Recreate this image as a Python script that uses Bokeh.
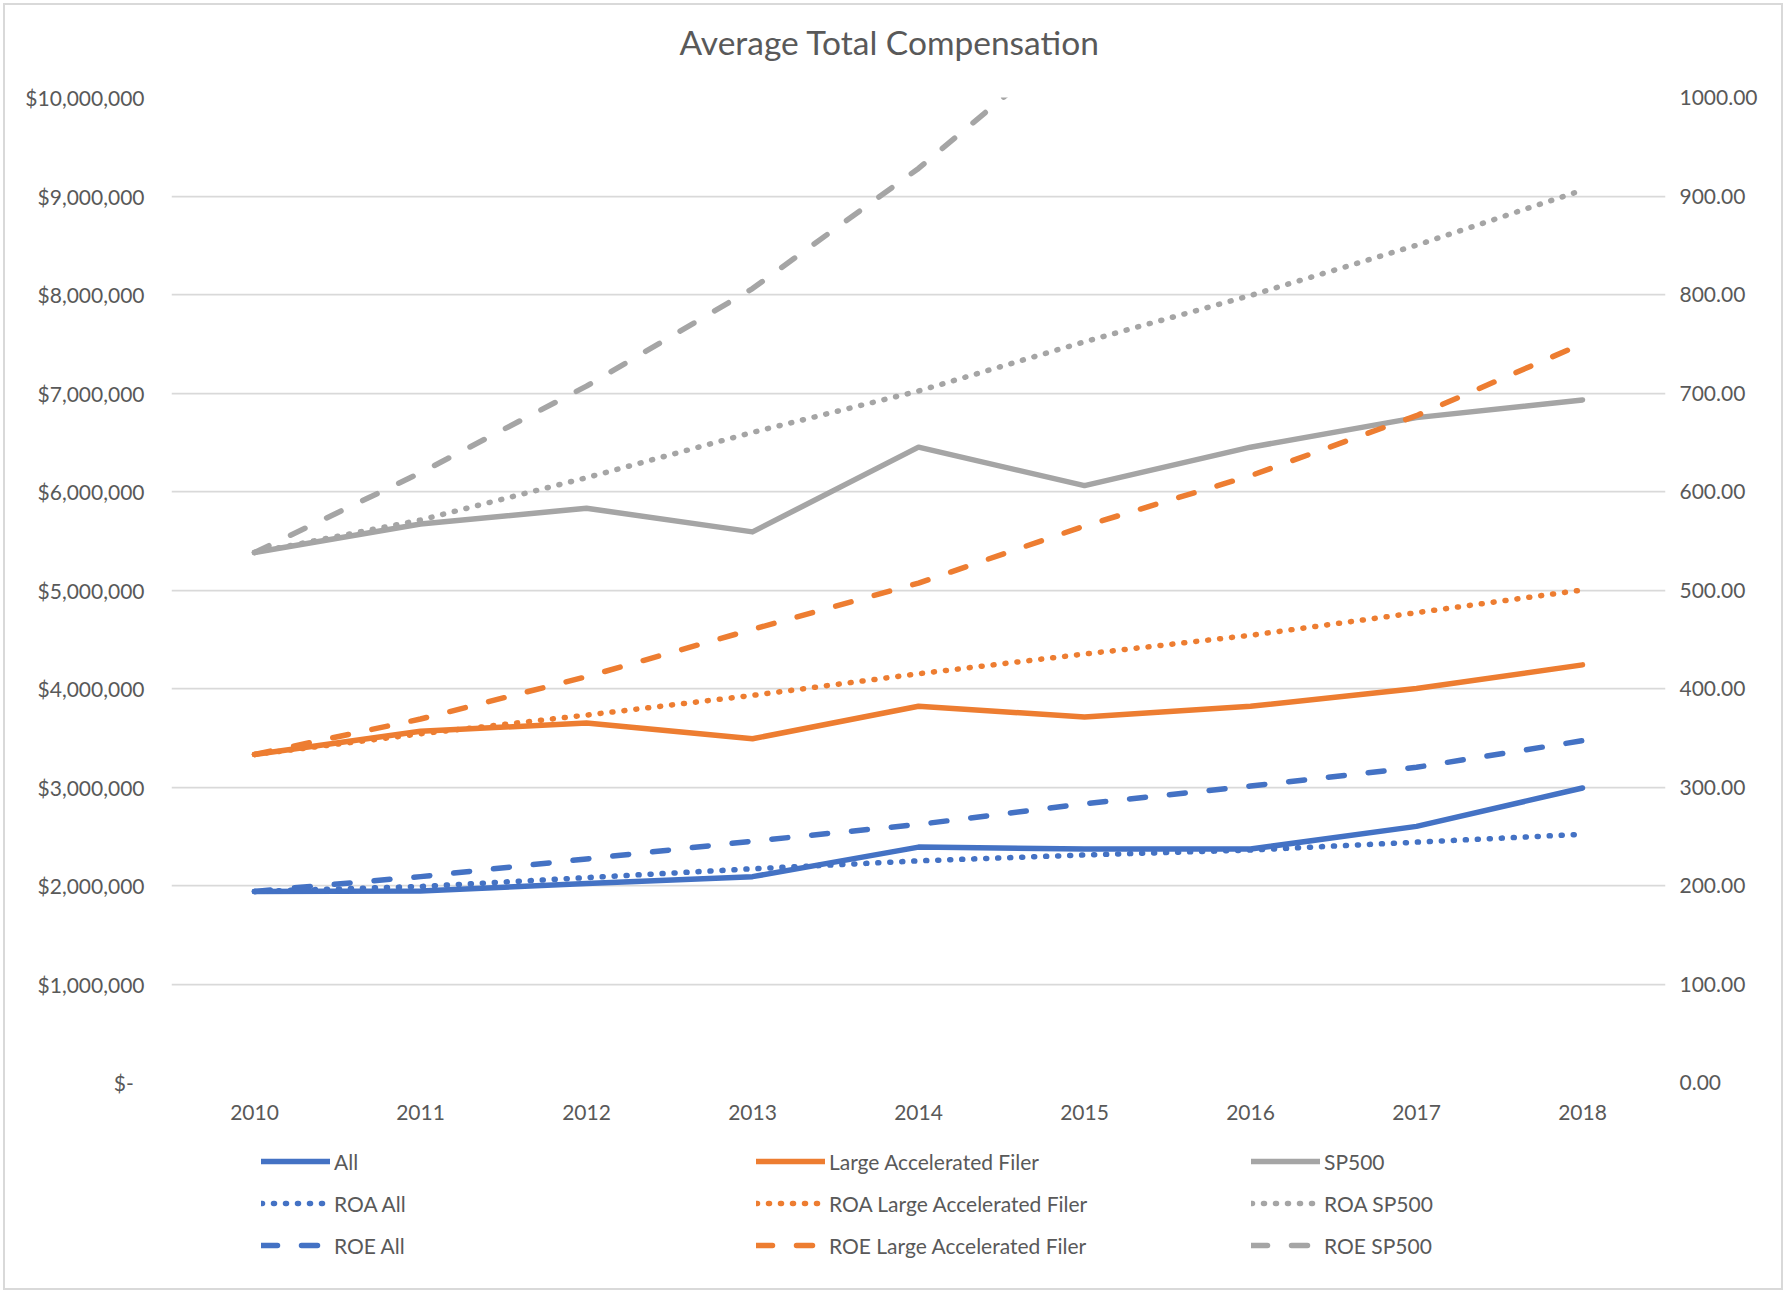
from bokeh.plotting import figure
from bokeh.layouts import column
from bokeh.models import (Range1d, LinearAxis, FixedTicker, NumeralTickFormatter,
                          CustomJSTickFormatter, Legend, LegendItem, Title)
from bokeh.embed import file_html
from bokeh.resources import INLINE

# ---------------- data ----------------
years = ["2010", "2011", "2012", "2013", "2014", "2015", "2016", "2017", "2018"]

all_comp = [1940000, 1945000, 2020000, 2090000, 2390000, 2370000, 2370000, 2600000, 2990000]
laf_comp = [3330000, 3565000, 3650000, 3490000, 3820000, 3710000, 3820000, 4000000, 4240000]
sp_comp = [5380000, 5670000, 5830000, 5590000, 6450000, 6060000, 6450000, 6750000, 6930000]

roa_all = [194, 199, 208, 217, 225, 231, 236, 244, 252]
roa_laf = [333, 354, 373, 393, 415, 435, 454, 477, 500]
roa_sp = [538, 571, 614, 660, 702, 752, 799, 850, 906]

roe_all = [194, 209, 227, 245, 262, 283, 301, 320, 347]
roe_laf = [333, 369, 412, 460, 507, 565, 616, 677, 750]
roe_sp = [538, 619, 707, 806, 928, 1069, 1227, 1411, 1623]

left_ticks = [0, 1000000, 2000000, 3000000, 4000000, 5000000,
              6000000, 7000000, 8000000, 9000000, 10000000]
right_ticks = [0, 100, 200, 300, 400, 500, 600, 700, 800, 900, 1000]

BLUE = "#4472C4"
ORANGE = "#ED7D31"
GRAY = "#A5A5A5"
TXT = "#595959"
FONT = "Lato"

# ---------------- main figure ----------------
W = 1776
H1 = 1139
H2 = 144
BL, BR = 166, 116
p = figure(width=W, height=H1, x_range=years, y_range=Range1d(0, 10000000),
           output_backend="svg", toolbar_location=None,
           min_border_left=BL, min_border_right=BR,
           min_border_top=92, min_border_bottom=62)
p.extra_y_ranges = {"right": Range1d(0, 1000)}

p.outline_line_color = None
p.background_fill_color = "white"
p.border_fill_color = "white"
p.xgrid.grid_line_color = None
p.ygrid.grid_line_color = "#D9D9D9"
p.ygrid.grid_line_width = 1.75
p.ygrid.ticker = FixedTicker(ticks=left_ticks)

# title (spacer nearest the frame, then the real title)
p.add_layout(Title(text=" ", text_font_size="1px", standoff=28), "above")
p.add_layout(Title(text="Average Total Compensation", align="left", offset=508,
                   text_font=FONT, text_font_size="33.5px", text_color=TXT,
                   text_font_style="normal", standoff=10), "above")

# axes
ax = p.yaxis[0]
ax.ticker = FixedTicker(ticks=left_ticks)
ax.formatter = CustomJSTickFormatter(code="""
    if (tick == 0) { return "$-\u00a0\u00a0"; }
    return "$" + Math.round(tick).toLocaleString("en-US");
""")
ax.major_label_standoff = 21

rax = LinearAxis(y_range_name="right", ticker=FixedTicker(ticks=right_ticks),
                 formatter=NumeralTickFormatter(format="0.00"))
rax.major_label_standoff = 8
p.add_layout(rax, "right")

xax = p.xaxis[0]
xax.major_label_standoff = 16

for a in [ax, rax, xax]:
    a.axis_line_color = None
    a.major_tick_line_color = None
    a.minor_tick_line_color = None
    a.major_label_text_font = FONT
    a.major_label_text_font_size = "21px"
    a.major_label_text_color = TXT

LW = 5.5
DOT = "1 11"
DASH = "16 24"

def style(color, dash):
    kw = dict(line_color=color, line_width=LW, line_cap="round", line_join="round")
    if dash is not None:
        kw["line_dash"] = dash
    return kw

series = [
    ("All", all_comp, BLUE, None, False),
    ("Large Accelerated Filer", laf_comp, ORANGE, None, False),
    ("SP500", sp_comp, GRAY, None, False),
    ("ROA All", roa_all, BLUE, DOT, True),
    ("ROA Large Accelerated Filer", roa_laf, ORANGE, DOT, True),
    ("ROA SP500", roa_sp, GRAY, DOT, True),
    ("ROE All", roe_all, BLUE, DASH, True),
    ("ROE Large Accelerated Filer", roe_laf, ORANGE, DASH, True),
    ("ROE SP500", roe_sp, GRAY, DASH, True),
]
for name, ys, color, dash, right in series:
    kw = style(color, dash)
    if right:
        kw["y_range_name"] = "right"
    p.line(years, ys, **kw)

# ---------------- legend strip (same series, ranges chosen so only the legend shows) ----------------
p2 = figure(width=W, height=H2, x_range=years, y_range=Range1d(-2, -1),
            output_backend="svg", toolbar_location=None,
            x_axis_location=None, y_axis_location=None,
            min_border_left=BL, min_border_right=BR, min_border_top=0, min_border_bottom=0)
p2.outline_line_color = None
p2.xgrid.visible = False
p2.ygrid.visible = False

proxies = {}
for name, ys, color, dash, right in series:
    proxies[name] = p2.line(years, ys, **style(color, dash))

legend_cols = [
    (["All", "ROA All", "ROE All"], 256),
    (["Large Accelerated Filer", "ROA Large Accelerated Filer", "ROE Large Accelerated Filer"], 751),
    (["SP500", "ROA SP500", "ROE SP500"], 1246),
]
for names, x in legend_cols:
    lg = Legend(items=[LegendItem(label=n, renderers=[proxies[n]]) for n in names],
                location=(x - BL, 30), orientation="vertical",
                glyph_width=69, glyph_height=26, label_height=26, spacing=16,
                padding=0, margin=0, label_standoff=4,
                border_line_alpha=0, background_fill_alpha=0,
                label_text_font=FONT, label_text_font_size="21px",
                label_text_color=TXT)
    p2.add_layout(lg)

lay = column(p, p2, spacing=0)
lay.styles = {"border": "2px solid #D9D9D9", "margin": "3px"}

open("out.html", "w").write(file_html(lay, INLINE))
